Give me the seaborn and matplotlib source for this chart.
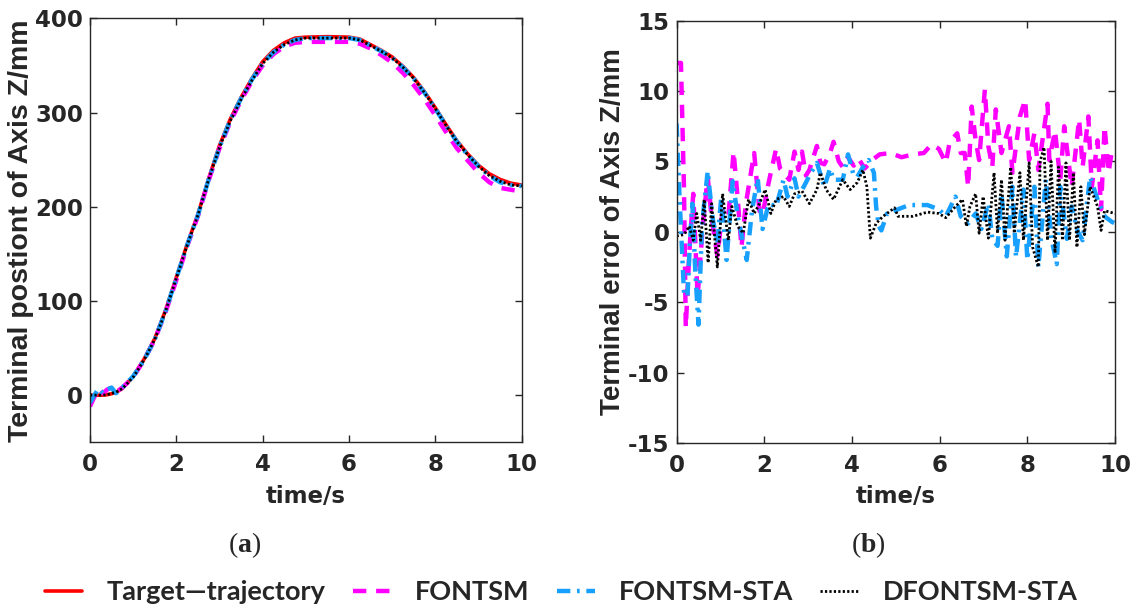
import matplotlib
matplotlib.use("Agg")
import matplotlib.pyplot as plt
import pandas as pd
import seaborn as sns

sns.set_theme(style="ticks")
plt.rcParams["font.family"] = ["DejaVu Sans"]
plt.rcParams["axes.unicode_minus"] = False
plt.rcParams["mathtext.fontset"] = "custom"
plt.rcParams["mathtext.bf"] = "Liberation Serif:bold"
plt.rcParams["mathtext.rm"] = "Liberation Serif"

SERIES = ["Target\u2014trajectory", "FONTSM", "FONTSM-STA", "DFONTSM-STA"]
COLORS = ["#ff0000", "#ff00ff", "#18a0ff", "#000000"]

# (a) position of axis Z
t_pos = [0, 0.1, 0.2, 0.3, 0.4, 0.5, 0.6, 0.75, 1, 1.25, 1.5, 1.75, 2, 2.25, 2.5, 2.75,
         3, 3.25, 3.5, 3.75, 4, 4.25, 4.5, 4.75, 5, 5.5, 6, 6.25, 6.5, 6.75, 7, 7.25,
         7.5, 7.75, 8, 8.25, 8.5, 8.75, 9, 9.25, 9.5, 9.75, 10]
z_target = [0, 0, 0, 0, 0.5, 1.5, 3, 7, 20, 38, 60, 90, 125, 160, 192, 230,
            265, 293, 316, 336, 354, 366, 374, 379, 380, 380.5, 380, 378, 372, 366, 359, 349,
            337, 322, 305, 287, 270, 256, 244, 235, 229, 225, 223]
z_fontsm = [-12, -2, 7, 2, 6, 8, 3, 8, 19, 37, 59, 88, 122, 158, 190, 228,
            262, 290, 313, 333, 350, 362, 370, 374, 375, 375, 375, 373, 368, 361, 353, 342,
            329, 314, 297, 279, 262, 249, 236, 226, 220, 218, 216]
z_sta = [-8, 0, 7, 2, 6, 8, 2, 8, 20, 37, 59, 89, 124, 159, 191, 229,
         263, 292, 315, 335, 352, 364, 372, 377, 379, 379, 379, 377, 371, 365, 358, 348,
         336, 321, 304, 286, 269, 255, 243, 233, 226, 223, 222]
z_dsta = [0, 0, 0, 0, 0.5, 2, 3, 7, 19, 37, 59, 89, 124, 159, 191, 229,
          263, 291, 314, 334, 352, 364, 372, 377, 379, 379, 379, 377, 371, 365, 358, 348,
          336, 321, 304, 286, 269, 255, 243, 233, 227, 223, 222]

# (b) terminal error of axis Z
t_err_fontsm = [0.0, 0.10, 0.17, 0.21, 0.29, 0.38, 0.48, 0.60, 0.71, 0.80, 0.93, 1.05, 1.18, 1.30,
                1.39, 1.48, 1.58, 1.77, 1.89, 1.96, 2.10, 2.27, 2.36, 2.44, 2.57, 2.69, 2.78, 2.86,
                2.95, 3.03, 3.20, 3.28, 3.37, 3.50, 3.58, 3.70, 3.79, 3.91, 4.04, 4.15, 4.29, 4.46,
                4.63, 4.88, 5.13, 5.39, 5.64, 5.81, 5.98, 6.14, 6.23, 6.40, 6.48, 6.57, 6.65, 6.73,
                6.82, 6.90, 7.03, 7.11, 7.20, 7.28, 7.41, 7.49, 7.58, 7.66, 7.83, 7.95, 8.04, 8.16,
                8.25, 8.46, 8.50, 8.63, 8.75, 8.84, 9.01, 9.18, 9.26, 9.39, 9.47, 9.60, 9.68, 9.76,
                9.85, 9.93, 10.0]
e_fontsm = [12.0, 12.0, 3.0, -6.8, -1.5, 2.7, -4.6, 0.5, 3.9, 1.0, -1.7, 1.5, 1.0, 5.7,
            2.5, -1.1, 2.0, 5.6, 1.5, 1.2, 3.5, 5.9, 4.5, 4.2, 3.7, 5.7, 4.4, 5.7,
            4.0, 4.4, 6.1, 4.9, 4.8, 5.6, 6.4, 5.0, 4.6, 5.3, 4.7, 5.2, 4.5, 5.1,
            5.5, 5.6, 5.3, 5.5, 5.6, 6.2, 5.9, 4.9, 6.4, 7.0, 5.6, 5.6, 3.2, 8.9,
            6.5, 5.1, 10.1, 6.1, 4.6, 8.7, 5.6, 6.5, 7.5, 4.2, 8.2, 9.4, 5.1, 7.0,
            4.4, 9.1, 5.1, 7.2, 3.7, 7.5, 3.2, 8.0, 4.6, 8.2, 3.2, 6.5, 1.6, 7.5,
            4.2, 5.8, 5.6]

t_err_sta = [0.0, 0.07, 0.17, 0.25, 0.30, 0.36, 0.43, 0.50, 0.58, 0.71, 0.82, 0.93, 1.02, 1.14,
             1.28, 1.40, 1.50, 1.60, 1.72, 1.85, 1.96, 2.10, 2.27, 2.44, 2.53, 2.69, 2.78, 2.95,
             3.03, 3.20, 3.37, 3.50, 3.58, 3.79, 3.91, 4.04, 4.12, 4.25, 4.38, 4.50, 4.55, 4.61,
             4.67, 4.80, 5.05, 5.30, 5.72, 5.98, 6.14, 6.36, 6.48, 6.65, 6.82, 6.95, 7.11, 7.20,
             7.32, 7.41, 7.53, 7.66, 7.74, 7.91, 8.00, 8.16, 8.25, 8.42, 8.55, 8.67, 8.75, 8.90,
             9.01, 9.15, 9.26, 9.43, 9.60, 9.76, 9.93, 10.0]
e_sta = [7.7, 2.3, -4.4, -4.6, -1.0, 2.0, -3.0, -6.6, 0.5, 4.3, 1.0, -0.8, 2.5, -2.0,
         3.6, 1.0, -0.5, -2.0, 1.5, 3.8, 0.2, 2.0, 1.8, 3.7, 2.5, 3.8, 2.5, 3.5,
         4.0, 4.9, 3.2, 4.5, 3.7, 3.7, 5.5, 4.0, 3.9, 4.6, 5.1, 4.2, 1.8, 0.4,
         0.1, 1.3, 1.6, 1.9, 1.9, 1.6, 1.1, 2.5, 1.1, 0.6, 1.3, 0.2, 2.0, -0.5,
         -1.0, 2.7, -1.75, 3.2, -1.8, 3.0, -2.0, 3.2, -2.5, 3.7, -0.5, -2.3, 3.2, -0.5,
         1.8, 0.0, -0.6, 3.9, 2.3, 1.1, 0.7, 0.6]

t_err_dsta = [0.0, 0.17, 0.29, 0.38, 0.46, 0.55, 0.63, 0.72, 0.80, 0.93, 1.05, 1.18, 1.26, 1.39,
              1.52, 1.64, 1.77, 1.89, 2.02, 2.15, 2.27, 2.44, 2.57, 2.69, 2.86, 3.03, 3.20, 3.28,
              3.41, 3.58, 3.79, 3.96, 4.12, 4.25, 4.34, 4.38, 4.42, 4.55, 4.71, 4.97, 5.05, 5.39,
              5.72, 5.98, 6.14, 6.36, 6.52, 6.61, 6.69, 6.82, 6.90, 6.99, 7.11, 7.24, 7.32, 7.41,
              7.49, 7.62, 7.70, 7.83, 7.91, 8.04, 8.12, 8.25, 8.29, 8.38, 8.46, 8.54, 8.63, 8.71,
              8.80, 8.88, 8.96, 9.05, 9.13, 9.22, 9.30, 9.43, 9.60, 9.68, 9.76, 10.0]
e_dsta = [-0.3, -0.2, 0.4, -0.6, 1.3, -0.6, 2.3, -2.2, 2.0, -2.5, 2.7, -0.6, 1.8, 0.4,
          -0.1, 2.3, 1.3, 2.0, 3.0, 1.3, 2.3, 2.5, 1.8, 2.7, 2.9, 2.0, 3.0, 4.2,
          3.0, 2.3, 3.7, 3.0, 3.5, 4.4, 3.2, 1.3, -0.45, 0.6, 1.1, 1.7, 1.1, 1.1,
          1.4, 1.3, 1.0, 1.8, 2.3, 0.4, 1.8, 2.7, -0.1, 2.5, -0.45, 4.2, -0.1, 3.7,
          -0.6, 4.6, -0.1, 4.2, -0.6, 4.9, -1.1, -2.5, 5.0, 6.0, -0.6, 5.0, -1.5, 4.6,
          -0.6, 4.9, -0.6, 4.2, -1.1, 3.2, -0.2, 3.2, 1.8, 0.1, 1.5, 1.3]

STYLES = [dict(linestyle="-", linewidth=2.6),
          dict(linestyle=(0, (3, 2.2)), linewidth=3.2),
          dict(linestyle=(0, (3, 1.5, 0.6, 1.5)), linewidth=3.2),
          dict(linestyle=(0, (0.8, 0.8)), linewidth=2.0)]

fig = plt.figure(figsize=(11.39, 6.10), dpi=100)
ax1 = fig.add_axes([0.079, 0.275, 0.379, 0.695])
ax2 = fig.add_axes([0.594, 0.274, 0.385, 0.692])

pos_data = [(t_pos, z_target), (t_pos, z_fontsm), (t_pos, z_sta), (t_pos, z_dsta)]
for i, (tt, zz) in enumerate(pos_data):
    df = pd.DataFrame({"t": tt, "z": zz})
    sns.lineplot(data=df, x="t", y="z", ax=ax1, color=COLORS[i], label=SERIES[i],
                 estimator=None, sort=False, **STYLES[i])

err_data = [(t_err_fontsm, e_fontsm, 1), (t_err_sta, e_sta, 2), (t_err_dsta, e_dsta, 3)]
for tt, ee, i in err_data:
    df = pd.DataFrame({"t": tt, "e": ee})
    sns.lineplot(data=df, x="t", y="e", ax=ax2, color=COLORS[i], estimator=None,
                 sort=False, **STYLES[i])

ink = "#262626"
for ax in (ax1, ax2):
    if ax.get_legend() is not None:
        ax.get_legend().remove()
    ax.set_xlim(0, 10)
    ax.set_xticks([0, 2, 4, 6, 8, 10])
    ax.tick_params(direction="in", top=True, right=True, length=5, width=1, colors=ink,
                   labelsize=16.5)
    ax.tick_params(axis="x", pad=8)
    ax.tick_params(axis="y", pad=5)
    for sp in ax.spines.values():
        sp.set_color(ink)
        sp.set_linewidth(1.0)
    ax.set_xlabel("time/s", fontsize=16.5, fontweight="bold", color=ink)
    ax.xaxis.set_label_coords(0.5, -0.1)

ax1.set_ylim(-50, 400)
ax1.set_yticks([0, 100, 200, 300, 400])
ax1.set_ylabel("Terminal postiont of Axis Z/mm", fontsize=20.5, fontweight="bold", color=ink,
               family="Liberation Sans")
ax1.yaxis.set_label_coords(-0.13, 0.5)

ax2.set_ylim(-15, 15)
ax2.set_yticks([-15, -10, -5, 0, 5, 10, 15])
ax2.set_ylabel("Terminal error of Axis Z/mm", fontsize=20, fontweight="bold", color=ink,
               family="Liberation Sans")
ax2.yaxis.set_label_coords(-0.115, 0.5)
for ax in (ax1, ax2):
    for lab in ax.get_xticklabels() + ax.get_yticklabels():
        lab.set_fontweight("bold")

fig.text(245 / 1139, 1 - 545 / 610, r"($\mathbf{a}$)", fontsize=20, ha="center", va="center",
         family="Liberation Serif")
fig.text(868 / 1139, 1 - 545 / 610, r"($\mathbf{b}$)", fontsize=20, ha="center", va="center",
         family="Liberation Serif")

handles = ax1.get_lines()[:4]
fig.legend(handles, SERIES, loc="center left", bbox_to_anchor=(31 / 1139, 1 - 592 / 610), ncol=4,
           frameon=False, borderpad=0, handlelength=1.4, handletextpad=0.9, columnspacing=1.0,
           prop={"family": ["Lato", "DejaVu Sans"], "weight": "bold", "size": 19.5})

fig.savefig("out.png", dpi=100)
